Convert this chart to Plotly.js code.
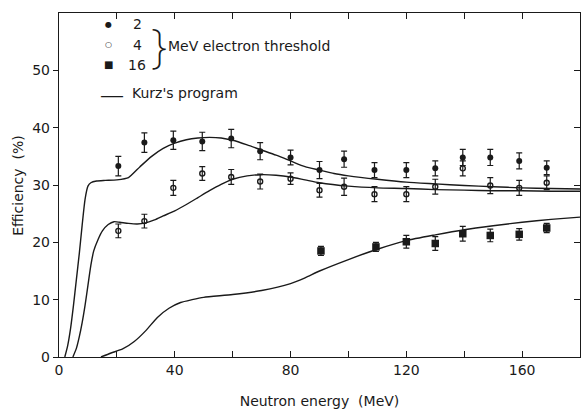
<!DOCTYPE html>
<html><head><meta charset="utf-8">
<script src="https://cdn.plot.ly/plotly-3.0.1.min.js"></script>
<style>html,body{margin:0;padding:0;background:#fff}#chart{width:581px;height:412px}</style>
</head><body><div id="chart"></div>
<script>
// Measured points (neutron energy in MeV, efficiency in %)
const energy2 = [20.5, 29.5, 39.5, 49.5, 59.5, 69.5, 80, 90, 98.5, 109, 120, 130, 139.5, 149, 159, 168.5];
const eff2    = [33.3, 37.4, 37.8, 37.6, 38.1, 35.9, 34.8, 32.6, 34.5, 32.6, 32.6, 32.9, 34.8, 34.8, 34.2, 33.0];
const err2    = [1.7, 1.7, 1.6, 1.6, 1.6, 1.5, 1.3, 1.5, 1.4, 1.3, 1.3, 1.3, 1.4, 1.4, 1.4, 1.2];

const energy4 = [20.5, 29.5, 39.5, 49.5, 59.5, 69.5, 80, 90, 98.5, 109, 120, 130, 139.5, 149, 159, 168.5];
const eff4    = [22.0, 23.7, 29.5, 32.0, 31.4, 30.6, 31.1, 29.1, 29.7, 28.4, 28.4, 29.7, 32.9, 29.9, 29.5, 30.4];
const err4    = [1.2, 1.2, 1.3, 1.2, 1.3, 1.3, 1.0, 1.2, 1.5, 1.3, 1.3, 1.3, 1.3, 1.4, 1.3, 1.2];

const energy16 = [90.5, 109.5, 120, 130, 139.5, 149, 159, 168.5];
const eff16    = [18.5, 19.2, 20.1, 19.8, 21.5, 21.2, 21.4, 22.5];
const err16    = [0.8, 0.8, 1.1, 1.2, 1.3, 1.1, 1.0, 0.8];

// Kurz's program curves
const kurzE2   = [2, 3, 4, 5, 6, 7, 8, 9, 10, 11, 13, 16, 20, 24, 28, 32, 36, 40, 44, 48, 52, 56, 60, 65, 70, 75, 80, 85, 90, 95, 100, 110, 120, 130, 140, 150, 160, 170, 180];
const kurzEff2 = [0, 2, 5, 9, 13.5, 18, 23, 27.5, 29.8, 30.4, 30.7, 30.8, 30.9, 31.3, 33.2, 35.0, 36.4, 37.3, 37.9, 38.2, 38.3, 38.2, 37.8, 37.0, 36.1, 35.2, 34.2, 33.2, 32.6, 32.0, 31.6, 31.0, 30.5, 30.2, 29.9, 29.7, 29.5, 29.4, 29.3];

const kurzE4   = [4.8, 6, 7, 8, 9, 10, 11, 12, 13.5, 15, 17, 19, 21, 24, 27, 30, 33, 36, 40, 44, 48, 52, 56, 60, 65, 70, 75, 80, 85, 90, 100, 110, 120, 130, 140, 150, 160, 170, 180];
const kurzEff4 = [0, 1.5, 3.5, 6, 9, 12.5, 16, 18.5, 20.5, 22, 23.1, 23.6, 23.5, 23.3, 23.2, 23.4, 23.9, 24.6, 25.5, 26.6, 27.8, 29.0, 30.1, 31.0, 31.6, 31.8, 31.7, 31.4, 30.9, 30.4, 29.8, 29.5, 29.4, 29.2, 29.1, 29.0, 29.0, 28.9, 28.9];

const kurzE16   = [14.5, 18, 22, 26, 30, 34, 38, 42, 46, 50, 60, 70, 80, 85, 90, 100, 110, 120, 130, 140, 150, 160, 170, 180];
const kurzEff16 = [0, 0.7, 1.4, 2.7, 4.6, 6.9, 8.5, 9.5, 10.0, 10.4, 10.9, 11.6, 12.8, 13.8, 15.0, 17.0, 18.8, 20.3, 21.3, 22.2, 22.9, 23.5, 24.0, 24.4];

const xTicks = [0, 40, 80, 120, 160];
const xMinor = [20, 60, 100, 140];
const yTicks = [0, 10, 20, 30, 40, 50];
const legendThresholds = ['2', '4', '16'];
const legendSymbols = ['●', '○', '■'];

const FONT = '"DejaVu Sans", sans-serif';
const THIN = '"Noto Sans", Lato, "DejaVu Sans", sans-serif';
const INK = '#1a1a1a';

function curve(x, y) {
  return {x: x, y: y, mode: 'lines', type: 'scatter', line: {color: INK, width: 1.4, shape: 'spline', smoothing: 0.6}, hoverinfo: 'skip', showlegend: false};
}
function pts(x, y, e, marker) {
  return {x: x, y: y, mode: 'markers', type: 'scatter', marker: marker,
    error_y: {type: 'data', array: e, visible: true, color: INK, thickness: 1.2, width: 3},
    showlegend: false};
}

const data = [
  curve(kurzE2, kurzEff2),
  curve(kurzE4, kurzEff4),
  curve(kurzE16, kurzEff16),
  pts(energy2, eff2, err2, {symbol: 'circle', size: 6, color: INK}),
  pts(energy4, eff4, err4, {symbol: 'circle-open', size: 5, color: INK, line: {width: 1.4, color: INK}}),
  pts(energy16, eff16, err16, {symbol: 'square', size: 7.5, color: INK}),
  // carrier for the right-hand tick axis
  {x: [0], y: [0], yaxis: 'y2', mode: 'markers', marker: {opacity: 0}, hoverinfo: 'skip', showlegend: false}
];

const txt = (x, y, text, extra) => Object.assign({x: x, y: y, xref: 'x', yref: 'y', text: text, showarrow: false, xanchor: 'left', yanchor: 'middle', font: {family: FONT, size: 14, color: INK}}, extra || {});

const legY = [58.0, 54.5, 51.0];
const annotations = [];
legendThresholds.forEach((t, i) => {
  annotations.push(txt(17.2, legY[i], legendSymbols[i], {xanchor: 'center', font: {family: FONT, size: i === 2 ? 10 : 8, color: INK}}));
  annotations.push(txt(27, legY[i], t, {xanchor: 'center'}));
});
annotations.push(txt(31.2, 54.6, '}', {font: {family: THIN, size: 46, color: INK, weight: 200}}));
annotations.push(txt(37.1, 54.3, 'MeV electron threshold'));
annotations.push(txt(18.2, 46.0, '—', {xanchor: 'center', font: {family: THIN, size: 24, color: INK, weight: 300}}));
annotations.push(txt(24.4, 46.0, 'Kurz\'s program'));
annotations.push({x: -0.079, y: 0.5, xref: 'paper', yref: 'paper', text: 'Efficiency  (%)', textangle: -90, showarrow: false, xanchor: 'center', yanchor: 'middle', font: {family: FONT, size: 14, color: INK}});

const layout = {
  width: 581, height: 412,
  margin: {l: 59, r: 1, t: 13, b: 55},
  paper_bgcolor: '#fff', plot_bgcolor: '#fff',
  font: {family: FONT, size: 14, color: INK},
  xaxis: {
    range: [0, 180], tickvals: xTicks, ticktext: xTicks.map(String),
    ticks: 'inside', ticklen: 6, tickwidth: 1, tickcolor: INK,
    minor: {tickvals: xMinor, ticks: 'inside', ticklen: 6, tickcolor: INK},
    showline: true, linecolor: INK, linewidth: 1.2, mirror: 'ticks',
    showgrid: false, zeroline: false,
    tickfont: {family: FONT, size: 14, color: INK},
    title: {text: 'Neutron energy  (MeV)', font: {family: FONT, size: 14, color: INK}, standoff: 19}
  },
  yaxis: {
    range: [0, 60], tickvals: yTicks, ticktext: yTicks.map(String),
    ticks: 'outside', ticklen: 5, tickwidth: 1, tickcolor: INK,
    showline: true, linecolor: INK, linewidth: 1.2, mirror: true,
    showgrid: false, zeroline: false,
    tickfont: {family: FONT, size: 14, color: INK}
  },
  yaxis2: {
    overlaying: 'y', side: 'right', range: [0, 60], tickvals: yTicks,
    ticks: 'inside', ticklen: 6, tickwidth: 1, tickcolor: INK,
    showticklabels: false, showline: false, showgrid: false, zeroline: false
  },
  annotations: annotations
};

Plotly.newPlot('chart', data, layout, {staticPlot: true, displayModeBar: false});
</script></body></html>
